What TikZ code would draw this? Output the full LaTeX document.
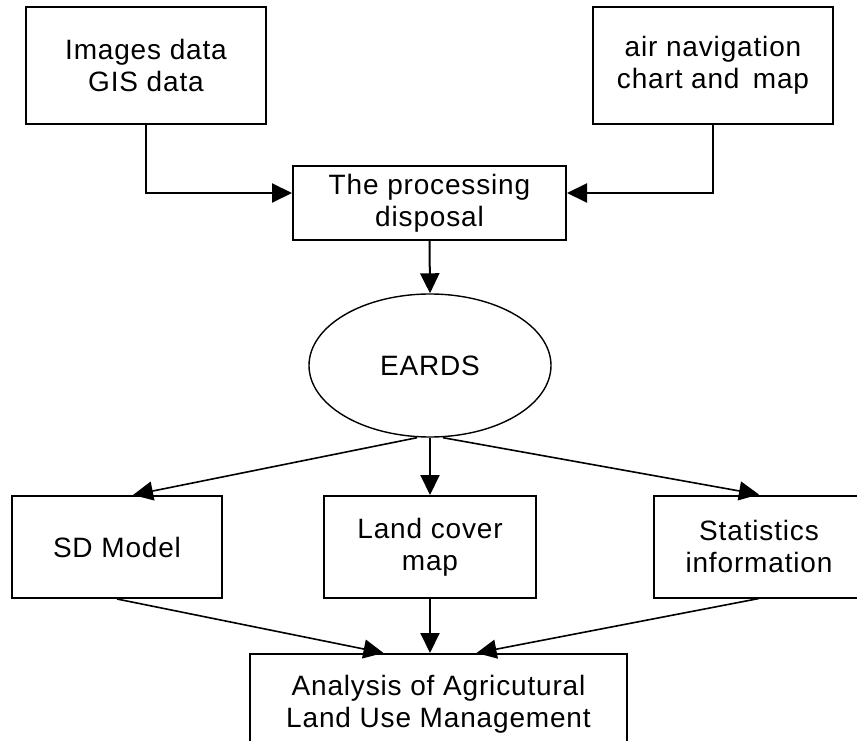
\documentclass[tikz,border=0pt]{standalone}
\usepackage{fontspec}
\setmainfont{Liberation Sans}[LetterSpace=3]
\usetikzlibrary{arrows.meta,shapes.geometric,calc}
\tikzset{
  box/.style={draw, line width=2pt, rectangle, align=center, inner sep=0pt,
    font=\fontsize{28}{32}\selectfont},
  oval/.style={draw, line width=1.4pt, ellipse, inner sep=0pt,
    font=\fontsize{28}{32}\selectfont},
  arr/.style={line width=2pt, -{Triangle[length=20pt,width=19pt]}},
  darr/.style={line width=1.6pt, -{Triangle[length=20pt,width=19pt]}}
}
\begin{document}
\begin{tikzpicture}[x=1pt,y=1pt]
\useasboundingbox (0,0) rectangle (857,740);
\node[box, minimum width=240pt, minimum height=117pt] (img) at (146,674.5) {Images data\\GIS data};
\node[box, minimum width=240pt, minimum height=117pt] (air) at (713,674.5) {air navigation\\chart and\, map};
\node[box, minimum width=273pt, minimum height=74pt] (proc) at (429.5,537) {The processing\\disposal};
\node[oval, minimum width=242pt, minimum height=143pt] (eards) at (430,374.5) {EARDS};
\node[box, minimum width=210pt, minimum height=102pt] (sd) at (117,193) {SD Model};
\node[box, minimum width=212pt, minimum height=102pt] (land) at (430,193) {Land cover\\map};
\node[box, minimum width=210pt, minimum height=102pt] (stats) at (759,193.5) {Statistics\\information};
\node[box, minimum width=377pt, minimum height=100pt] (ana) at (438.5,36) {Analysis of Agricutural\\Land Use Management};

\draw[arr] (img.south) |- ([yshift=10pt]proc.west);
\draw[arr] (air.south) |- ([yshift=10pt]proc.east);
\draw[arr] (proc.south) -- (eards.north);
\draw[arr] (eards.south) -- (land.north);
\draw[darr] ([xshift=-13pt]eards.south) -- ([xshift=16pt]sd.north);
\draw[darr] ([xshift=13pt]eards.south) -- (stats.north);
\draw[darr] (sd.south) -- ([xshift=-55pt]ana.north);
\draw[arr] (land.south) -- (land.south |- ana.north);
\draw[darr] (stats.south) -- ([xshift=38pt]ana.north);
\end{tikzpicture}
\end{document}
